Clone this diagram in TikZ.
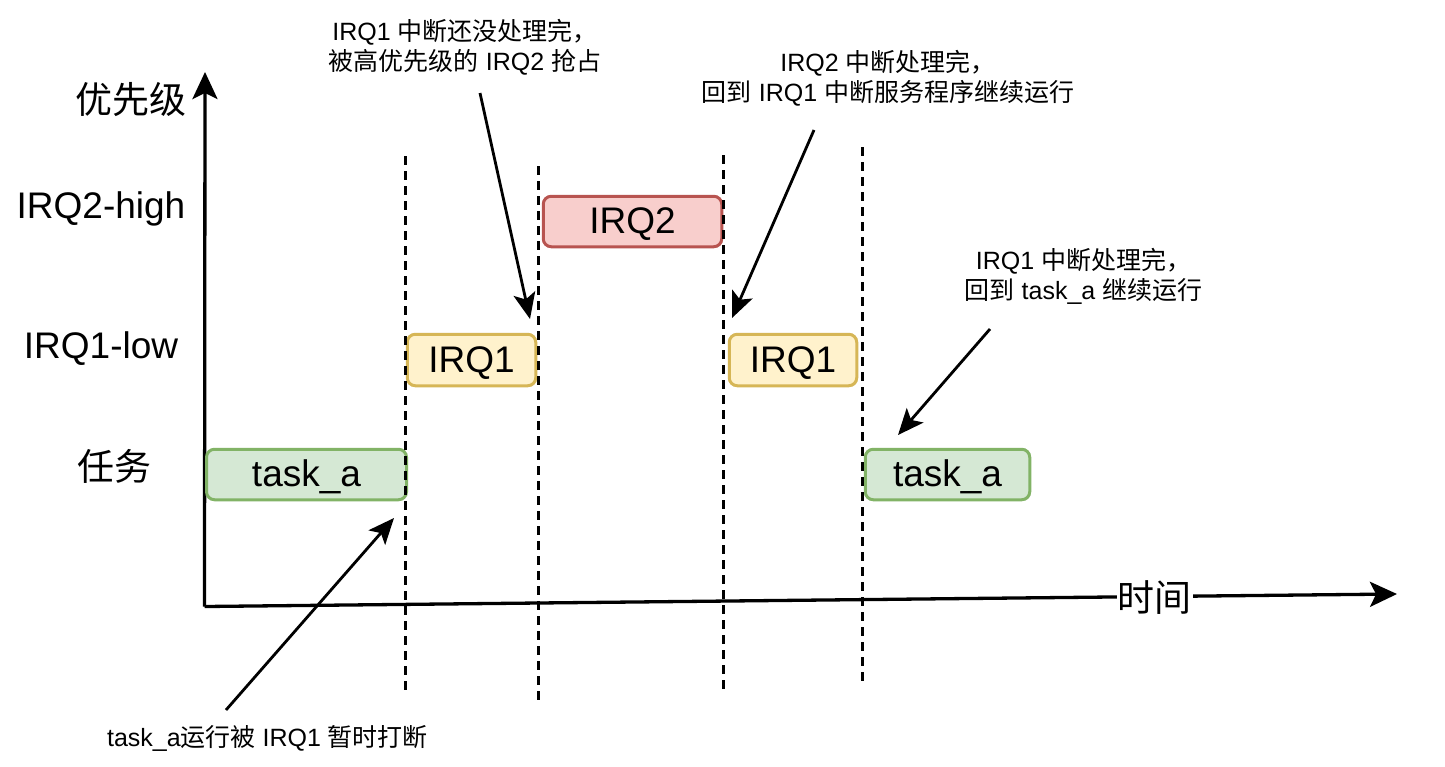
\documentclass[tikz,border=0pt]{standalone}
\usepackage{fontspec}
\setmainfont{Liberation Sans}
\newfontfamily\cjk{Noto Sans CJK SC}
\usetikzlibrary{arrows.meta}
\definecolor{gfill}{HTML}{D5E8D4}\definecolor{gline}{HTML}{82B366}
\definecolor{yfill}{HTML}{FFF2CC}\definecolor{yline}{HTML}{D6B656}
\definecolor{rfill}{HTML}{F8CECC}\definecolor{rline}{HTML}{B85450}
\tikzset{
  bigtext/.style={font=\fontsize{37}{40}\selectfont},
  note/.style={font=\fontsize{25}{30}\selectfont, align=center, inner sep=0pt},
  slot/.style={rounded corners=8pt, line width=3pt, font=\fontsize{37}{40}\selectfont,
     text height=24pt, text depth=0pt, inner sep=0pt},
  taskbox/.style={slot, fill=gfill, draw=gline},
  lowbox/.style={slot, fill=yfill, draw=yline},
  highbox/.style={slot, fill=rfill, draw=rline},
  axis/.style={line width=3.3pt, -{Stealth[length=27pt,width=25pt,inset=6pt]}},
  pointer/.style={line width=2.8pt, -{Stealth[length=26pt,width=22pt,inset=6pt]}},
  cut/.style={line width=2.8pt, dash pattern=on 9pt off 6pt},
}
\begin{document}
\begin{tikzpicture}[x=1pt,y=-1pt]
\useasboundingbox[fill=white] (0,0) rectangle (1445,766);
% axes
\coordinate (O) at (204.5,606.5);
\coordinate (ytop) at (205,72);
\coordinate (xend) at (1397,594);
\draw[axis] (O) -- (ytop);
\draw[axis] (O) -- (xend);
\node[bigtext, fill=white, inner sep=1pt] (time) at (1154.5,598) {\cjk 时间};
% row labels
\node[bigtext] (prio) at (131,100) {\cjk 优先级};
\node[bigtext, anchor=base] (high) at (101,218) {IRQ2-high};
\node[bigtext, anchor=base] (low) at (101,358) {IRQ1-low};
\node[bigtext] (task) at (114.5,466) {\cjk 任务};
% boxes
\node[taskbox, minimum width=200pt, minimum height=50.5pt] (ta1) at (306.5,474.5) {task\_a};
\node[lowbox, minimum width=128.5pt, minimum height=51.5pt] (q1a) at (471.5,360) {IRQ1};
\node[highbox, minimum width=178.5pt, minimum height=50.5pt] (q2) at (632.5,221.5) {IRQ2};
\node[lowbox, minimum width=127.5pt, minimum height=51.5pt] (q1b) at (793,360) {IRQ1};
\node[taskbox, minimum width=164.5pt, minimum height=50.5pt] (ta2) at (947.5,474.5) {task\_a};
% dashed time cuts
\coordinate (c1t) at (405.5,156); \coordinate (c1b) at (405.5,692);
\coordinate (c2t) at (538.5,166); \coordinate (c2b) at (538.5,700);
\coordinate (c3t) at (723.5,155); \coordinate (c3b) at (723.5,693);
\coordinate (c4t) at (862.5,147); \coordinate (c4b) at (862.5,684);
\draw[cut] (c1t) -- (c1b);
\draw[cut] (c2t) -- (c2b);
\draw[cut] (c3t) -- (c3b);
\draw[cut] (c4t) -- (c4b);
% notes
\node[note] (n1) at (465,47) {IRQ1 {\cjk 中断还没处理完，}\\{\cjk 被高优先级的} IRQ2 {\cjk 抢占}};
\node[note] (n2) at (888,78) {IRQ2 {\cjk 中断处理完，}\\{\cjk 回到} IRQ1 {\cjk 中断服务程序继续运行}};
\node[note] (n3) at (1083.5,276.5) {IRQ1 {\cjk 中断处理完，}\\{\cjk 回到} task\_a {\cjk 继续运行}};
\node[note] (n4) at (267.5,738) {task\_a{\cjk 运行被} IRQ1 {\cjk 暂时打断}};
% pointers
\coordinate (p1s) at (480,93);   \coordinate (p1e) at (530,319);
\coordinate (p2s) at (814,130);  \coordinate (p2e) at (732,318);
\coordinate (p3s) at (990,329);  \coordinate (p3e) at (898,435);
\coordinate (p4s) at (226,710);  \coordinate (p4e) at (394,518);
\draw[pointer] (p1s) -- (p1e);
\draw[pointer] (p2s) -- (p2e);
\draw[pointer] (p3s) -- (p3e);
\draw[pointer] (p4s) -- (p4e);
\end{tikzpicture}
\end{document}
